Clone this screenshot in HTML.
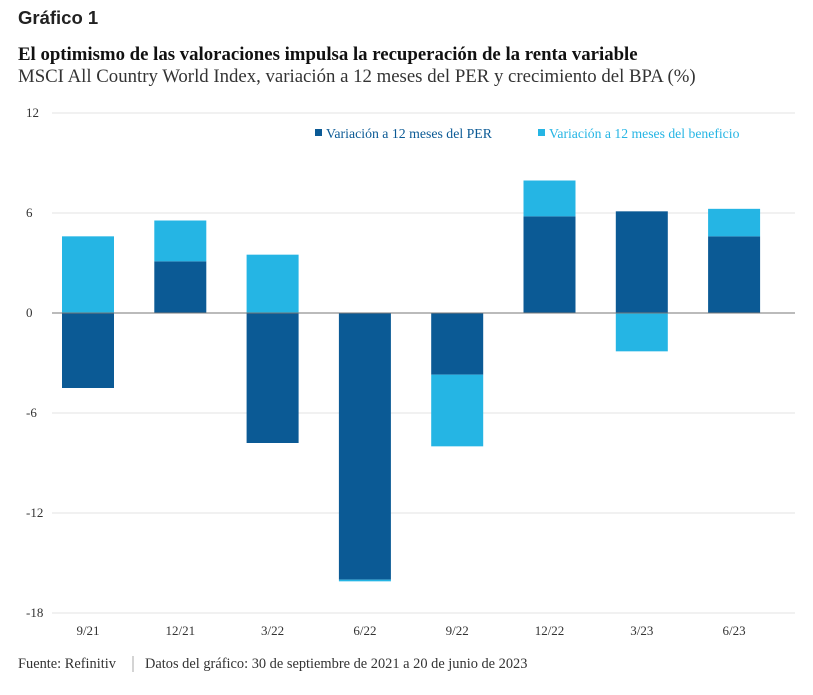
<!DOCTYPE html>
<html><head><meta charset="utf-8"><style>
body{margin:0;background:#fff;width:813px;height:690px;overflow:hidden;font-family:"Liberation Serif",serif}
</style></head><body>
<svg width="813" height="690" xmlns="http://www.w3.org/2000/svg">
<text x="18" y="24" font-family="Liberation Sans,sans-serif" font-weight="bold" font-size="18.5" fill="#222">Gráfico 1</text>
<text x="18" y="60" font-weight="bold" font-size="18.8" fill="#111">El optimismo de las valoraciones impulsa la recuperación de la renta variable</text>
<text x="18" y="82" font-size="18.8" fill="#333">MSCI All Country World Index, variación a 12 meses del PER y crecimiento del BPA (%)</text>
<g id="grid"></g>
<g id="bars"></g>
<g id="xlabels"></g>
<g>
<rect x="315" y="129" width="7" height="7" fill="#0b5a95"/>
<text x="326" y="138" font-size="13.8" fill="#0b5a95">Variación a 12 meses del PER</text>
<rect x="538" y="129" width="7" height="7" fill="#25b5e4"/>
<text x="549" y="138" font-size="13.7" fill="#25b5e4">Variación a 12 meses del beneficio</text>
</g>
<text x="18" y="668" font-size="14.4" fill="#333">Fuente: Refinitiv</text>
<line x1="133" y1="656" x2="133" y2="672" stroke="#aaa"/>
<text x="145" y="668" font-size="14.4" fill="#333">Datos del gráfico: 30 de septiembre de 2021 a 20 de junio de 2023</text>
</svg>
<script>
const categories=["9/21","12/21","3/22","6/22","9/22","12/22","3/23","6/23"];
const perValues=[-4.5,3.1,-7.8,-16.0,-3.7,5.8,6.1,4.6];
const benefitValues=[4.6,2.45,3.5,-0.1,-4.3,2.15,-2.3,1.65];
const yTicks=[12,6,0,-6,-12,-18];
const NS="http://www.w3.org/2000/svg";
const y=v=>313-(v*100/6);
const x=i=>88+i*92.3;
const bw=52;
function mk(tag,attrs,parent){const e=document.createElementNS(NS,tag);for(const k in attrs)e.setAttribute(k,attrs[k]);document.getElementById(parent).appendChild(e);return e;}
yTicks.forEach(t=>{
 const l=mk("line",{x1:52,x2:795,y1:y(t),y2:y(t),stroke:t===0?"#777":"#e3e3e3","stroke-width":1},"grid");
 
 
 const tx=mk("text",{x:26,y:y(t)+4,"font-size":13,fill:"#333"},"grid");tx.textContent=t;
 
 
});
categories.forEach((c,i)=>{
 const p=perValues[i],b=benefitValues[i];
 const r1=mk("rect",{x:x(i)-bw/2,y:Math.min(y(0),y(p)),width:bw,height:Math.abs(y(p)-y(0)),fill:"#0b5a95"},"bars");
 
 
 const base=(Math.sign(b)===Math.sign(p))?p:0;
 const r2=mk("rect",{x:x(i)-bw/2,y:Math.min(y(base),y(base+b)),width:bw,height:Math.max(1,Math.abs(y(base+b)-y(base))),fill:"#25b5e4"},"bars");
 
 
 const tx=mk("text",{x:x(i),y:635,"font-size":13,fill:"#333","text-anchor":"middle"},"xlabels");tx.textContent=c;
 
 
});
const z=mk("line",{x1:52,x2:795,y1:y(0),y2:y(0),stroke:"#777"},"bars");


</script>
</body></html>
